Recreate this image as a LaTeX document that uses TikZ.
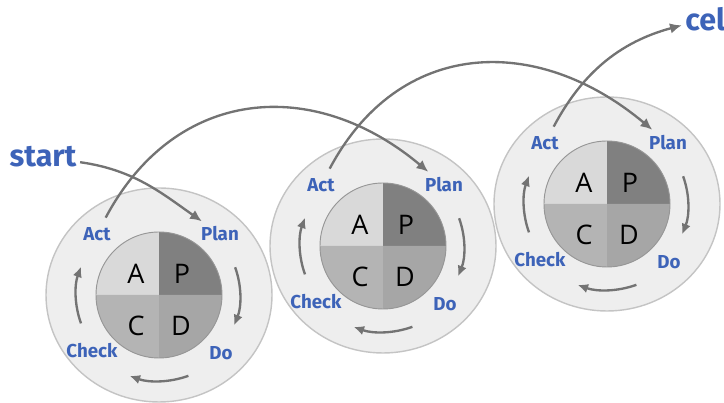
\documentclass[tikz,border=0pt]{standalone}
\usepackage{fontspec}
\setmainfont{Open Sans}
\newfontfamily\labelfont{Fira Sans}
\usetikzlibrary{arrows.meta, positioning}
\definecolor{phaseblue}{RGB}{61,99,184}
\definecolor{ringfill}{RGB}{238,238,238}
\definecolor{ringedge}{RGB}{196,196,196}
\definecolor{hubedge}{RGB}{150,150,150}
\definecolor{arrowgray}{RGB}{115,115,115}
\definecolor{actgray}{RGB}{217,217,217}
\definecolor{plangray}{RGB}{128,128,128}
\definecolor{checkgray}{RGB}{180,180,180}
\definecolor{dogray}{RGB}{166,166,166}

\begin{document}
\begin{tikzpicture}[
    x=0.03cm, y=0.03cm,
    ring/.style={draw=ringedge, line width=1.2pt, fill=ringfill},
    hub/.style={draw=hubedge, line width=0.8pt},
    phase/.style={font=\labelfont\bfseries\fontsize{16}{16}\selectfont, text=phaseblue, inner sep=1pt},
    letter/.style={font=\fontsize{23}{23}\selectfont, inner sep=0pt},
    turn/.style={-{Latex[length=9pt,width=8pt]}, line width=2pt, draw=arrowgray},
    flow/.style={-{Latex[length=10pt,width=9pt]}, line width=2pt, draw=arrowgray}
]
\useasboundingbox (0,0) rectangle (724,403);

% PDCA cycles
\foreach \i/\x/\y in {1/159/108, 2/383/157, 3/607/199} {
  \coordinate (c\i) at (\x,\y);
  \draw[ring] (c\i) ellipse [x radius=113, y radius=107];
  % quadrants
  \fill[actgray] (c\i) -- ++(0,63) arc (90:180:63) -- cycle;
  \fill[plangray] (c\i) -- ++(63,0) arc (0:90:63) -- cycle;
  \fill[checkgray] (c\i) -- ++(-63,0) arc (180:270:63) -- cycle;
  \fill[dogray] (c\i) -- ++(0,-63) arc (270:360:63) -- cycle;
  \draw[hub] (c\i) circle (63);
  \node[letter] (a\i) at ([shift={(-23,21)}]c\i) {A};
  \node[letter] (p\i) at ([shift={(23,21)}]c\i) {P};
  \node[letter] (k\i) at ([shift={(-23,-31)}]c\i) {C};
  \node[letter] (d\i) at ([shift={(22,-31)}]c\i) {D};
  % phase labels
  \node[phase] (act\i) at ([shift={(-62,61)}]c\i) {Act};
  \node[phase] (plan\i) at ([shift={(61,61)}]c\i) {Plan};
  \node[phase] (check\i) at ([shift={(-67,-56)}]c\i) {Check};
  \node[phase] (do\i) at ([shift={(62,-58)}]c\i) {Do};
  % turning arrows
  \draw[turn] ([shift={(20:81)}]c\i) arc (20:-22:81);
  \draw[turn] ([shift={(-70:86)}]c\i) arc (-70:-110:86);
  \draw[turn] ([shift={(200:83)}]c\i) arc (200:160:83);
}

% Start and end
\node[phase, font=\labelfont\bfseries\fontsize{26}{26}\selectfont] (start) at (43,246) {start};
\node[phase, font=\labelfont\bfseries\fontsize{26}{26}\selectfont, anchor=west] (cel) at (684,384) {cel};

% Links between cycles
\draw[flow, shorten <=2pt, shorten >=6pt] (start) to[out=-8,in=145] (plan1);
\draw[flow, shorten <=8pt, shorten >=6pt] (act1) to[out=62,in=140,looseness=1.2] (plan2);
\draw[flow, shorten <=8pt, shorten >=6pt] (act2) to[out=62,in=140,looseness=1.2] (plan3);
\draw[flow, shorten <=8pt, shorten >=2pt] (act3) to[out=62,in=195] (cel);

\end{tikzpicture}
\end{document}
